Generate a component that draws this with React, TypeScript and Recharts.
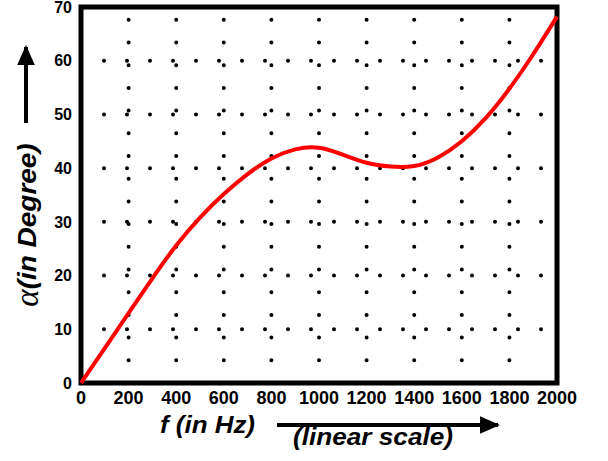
import React from "react";
import { LineChart, Line, XAxis, YAxis, ReferenceLine, ReferenceArea } from "recharts";

const freqs = [0, 100, 200, 300, 400, 500, 600, 700, 800, 900, 1000, 1100, 1200, 1300, 1400, 1500, 1600, 1700, 1800, 1900, 2000];
const alphaDeg = [0, 6.5, 13.0, 19.5, 25.6, 30.8, 35.2, 38.9, 41.8, 43.5, 43.8, 42.5, 41.0, 40.3, 40.4, 42.0, 45.0, 49.3, 54.8, 61.2, 68.2];
const xTicks = [0, 200, 400, 600, 800, 1000, 1200, 1400, 1600, 1800, 2000];
const yTicks = [0, 10, 20, 30, 40, 50, 60, 70];
const xGridLines = [200, 400, 600, 800, 1000, 1200, 1400, 1600, 1800];
const yGridLines = [10, 20, 30, 40, 50, 60];

const data = freqs.map((f, i) => ({ f, a: alphaDeg[i] }));

const SANS = "'Liberation Sans', Arial, sans-serif";

const DotLine = (gap: number) => (p: any) => (
  <line
    x1={p.x1}
    y1={p.y1}
    x2={p.x2}
    y2={p.y2}
    stroke="#000"
    strokeWidth={4}
    strokeLinecap="round"
    strokeDasharray={`0 ${gap}`}
  />
);

const FrameRect = (p: any) => (
  <rect x={p.x} y={p.y} width={p.width} height={p.height} fill="none" stroke="#000" strokeWidth={5} />
);

export default function App() {
  return (
    <div style={{ position: "absolute", left: 0, top: 0, width: 608, height: 461, background: "#fff" }}>
      <LineChart width={608} height={461} data={data} margin={{ top: 7, right: 51, bottom: 48, left: 0 }}>
        <XAxis
          dataKey="f"
          type="number"
          domain={[0, 2000]}
          ticks={xTicks}
          interval={0}
          axisLine={false}
          tickLine={false}
          tickSize={0}
          tickMargin={8}
          height={30}
          tick={{ fill: "#000", stroke: "none", fontSize: 18, fontWeight: "bold", fontFamily: SANS }}
        />
        <YAxis
          type="number"
          domain={[0, 70]}
          ticks={yTicks}
          interval={0}
          axisLine={false}
          tickLine={false}
          tickSize={0}
          tickMargin={9}
          width={81}
          tick={{ fill: "#000", stroke: "none", fontSize: 16, fontWeight: "bold", fontFamily: SANS }}
        />
        {yGridLines.map((v) => (
          <ReferenceLine key={"h" + v} y={v} shape={DotLine(23)} />
        ))}
        {xGridLines.map((v) => (
          <ReferenceLine key={"v" + v} x={v} shape={DotLine(22.7)} />
        ))}
        <ReferenceArea x1={0} x2={2000} y1={0} y2={70} ifOverflow="visible" shape={FrameRect} />
        <Line
          type="natural"
          dataKey="a"
          stroke="#ff0000"
          strokeWidth={4}
          dot={false}
          activeDot={false}
          isAnimationActive={false}
        />
      </LineChart>
      <svg width={608} height={461} style={{ position: "absolute", left: 0, top: 0, pointerEvents: "none" }}>
        <defs>
          <marker id="ah" markerWidth="5" markerHeight="4.4" refX="4.5" refY="2.2" orient="auto" markerUnits="strokeWidth">
            <path d="M0,0 L5,2.2 L0,4.4 z" fill="#000" />
          </marker>
        </defs>
        <line x1={26} y1={123} x2={26} y2={47} stroke="#000" strokeWidth={4} markerEnd="url(#ah)" />
        <text
          transform="rotate(-90, 27, 225)"
          x={27}
          y={225}
          textAnchor="middle"
          dominantBaseline="central"
          fill="#000"
        >
          <tspan fontFamily="'Liberation Serif', 'DejaVu Serif', serif" fontStyle="italic" fontSize={33}>α</tspan>
          <tspan fontFamily={SANS} fontStyle="italic" fontWeight="bold" fontSize={26} textLength={146} lengthAdjust="spacingAndGlyphs">(in Degree)</tspan>
        </text>
        <text x={160} y={433} fill="#000" fontFamily={SANS} fontStyle="italic" fontWeight="bold" fontSize={23} textLength={95} lengthAdjust="spacingAndGlyphs">
          f (in Hz)
        </text>
        <line x1={277} y1={425} x2={498} y2={425} stroke="#000" strokeWidth={4} markerEnd="url(#ah)" />
        <text x={293} y={445} fill="#000" fontFamily={SANS} fontStyle="italic" fontWeight="bold" fontSize={24} textLength={160} lengthAdjust="spacingAndGlyphs">
          (linear scale)
        </text>
      </svg>
    </div>
  );
}
